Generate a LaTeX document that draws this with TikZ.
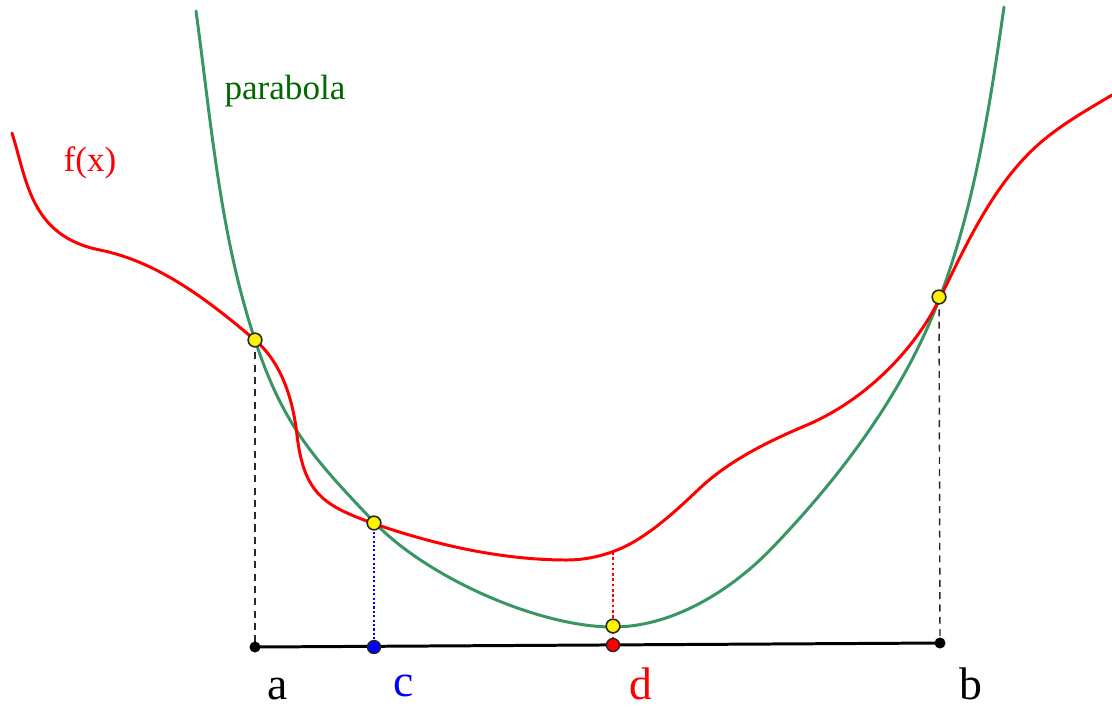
\documentclass[tikz,border=0pt]{standalone}
\usepackage{fontspec}
\setmainfont{Liberation Serif}
\definecolor{pgreen}{RGB}{56,150,100}
\definecolor{tgreen}{RGB}{0,105,0}
\definecolor{dgray}{RGB}{40,40,40}
\tikzset{
  ydot/.style={circle,draw=black!85,fill=yellow,line width=0.9pt,inner sep=0pt,minimum size=7.8pt},
  kdot/.style={circle,fill=black,inner sep=0pt,minimum size=6.3pt},
  cdot/.style={circle,draw=black!85,line width=0.8pt,inner sep=0pt,minimum size=7.4pt},
  curve/.style={line width=1.7pt,line cap=round,line join=round},
  lbl/.style={font=\rmfamily\fontsize{26}{30}\selectfont,inner sep=0pt},
  tlbl/.style={font=\rmfamily\fontsize{20}{24}\selectfont,inner sep=0pt}
}
\begin{document}
\begin{tikzpicture}[x=0.02cm,y=-0.02cm]
\useasboundingbox (0,0) rectangle (1112,708);
% parabola
\draw[pgreen,curve] (196,11)
  .. controls (211,121) and (220,235) .. (255,340)
  .. controls (283,425) and (313,458) .. (375,523)
  .. controls (427,577) and (538,627) .. (613,627)
  .. controls (673,627) and (732,590) .. (773,547)
  .. controls (842,475) and (905,391) .. (940,297)
  .. controls (975,204) and (990,105) .. (1004,7);
% f(x)
\draw[red,curve] (12,133)
  .. controls (27,180) and (30,236) .. (100,250)
  .. controls (159,262) and (209,301) .. (255,340)
  .. controls (282,363) and (293,400) .. (297,435)
  .. controls (304,495) and (325,506) .. (375,524)
  .. controls (436,545) and (502,560) .. (567,560)
  .. controls (592,560) and (619,552) .. (640,538)
  .. controls (662,524) and (681,506) .. (700,488)
  .. controls (730,460) and (769,441) .. (807,425)
  .. controls (863,401) and (913,353) .. (940,298)
  .. controls (967,243) and (994,183) .. (1040,143)
  .. controls (1062,124) and (1087,110) .. (1112,95);
% points
\coordinate (fd) at (613,552);
\coordinate (ya) at (255,340);
\coordinate (yc) at (374,523);
\coordinate (yd) at (613,626);
\coordinate (yb) at (939,297);
\coordinate (xa) at (255,647);
\coordinate (xc) at (374,647);
\coordinate (xd) at (613,645);
\coordinate (xb) at (940,643);
% verticals
\draw[dgray,line width=0.8pt,dash pattern=on 4pt off 3pt] (ya) -- (xa);
\draw[dgray,line width=0.8pt,dash pattern=on 4pt off 3pt] (yb) -- (xb);
\draw[blue,line width=1.2pt,dash pattern=on 1.2pt off 1.3pt] (yc) -- (xc);
\draw[red,line width=1.4pt,dash pattern=on 1.5pt off 1.5pt] (fd) -- (yd);
\draw[red,line width=1.4pt,dash pattern=on 1.5pt off 1.5pt] (yd) -- (xd);
% axis
\draw[black,line width=1.7pt] (xa) -- (xb);
\node[kdot] (pa) at (xa) {};
\node[kdot] (pb) at (xb) {};
\node[cdot,fill=blue] (pc) at (xc) {};
\node[cdot,fill=red] (pd) at (xd) {};
% yellow dots
\node[ydot] (na) at (ya) {};
\node[ydot] (nc) at (yc) {};
\node[ydot] (nd) at (yd) {};
\node[ydot] (nb) at (yb) {};
% labels
\node[tlbl,text=tgreen] (lp) at (285,91) {parabola};
\node[tlbl,text=red] (lf) at (90,163) {f(x)};
\node[lbl] (la) at (278,689) {a};
\node[lbl,text=blue] (lc) at (404,686) {c};
\node[lbl,text=red] (ld) at (641,684) {d};
\node[lbl] (lb) at (971,684) {b};
\end{tikzpicture}
\end{document}
